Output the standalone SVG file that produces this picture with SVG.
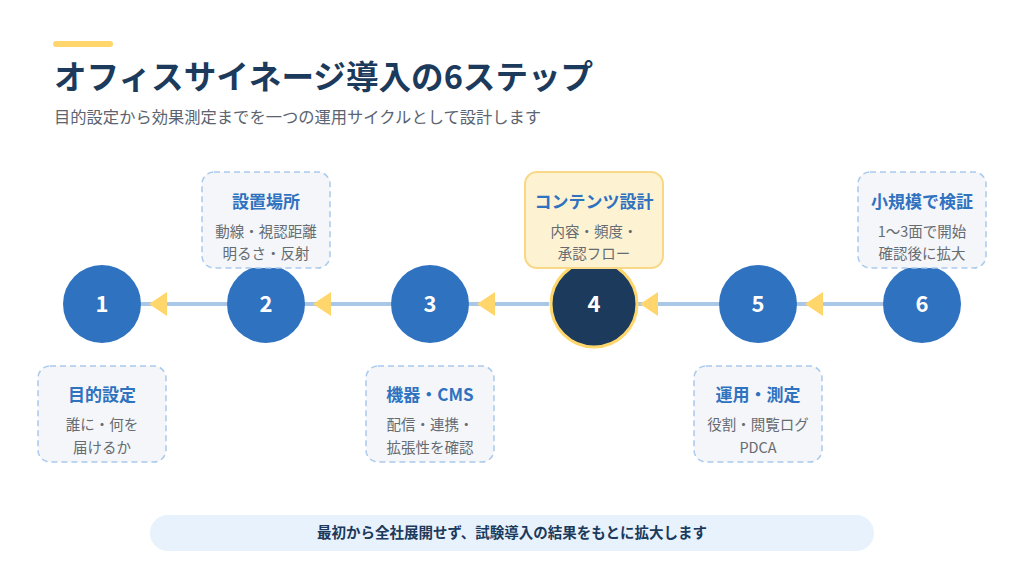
<svg xmlns="http://www.w3.org/2000/svg" width="1024" height="576" viewBox="0 0 1024 576">
<defs>
<style>
text{font-family:"Noto Sans CJK JP","Noto Sans",sans-serif;}
.title{font-size:32.6px;font-weight:700;fill:#1b3a5c;}
.sub{font-size:16.3px;fill:#5b6470;}
.num{font-size:22px;font-weight:700;fill:#ffffff;text-anchor:middle;}
.step{fill:#2f72c0;}
.card{fill:#f4f6f9;stroke:#a9c9ec;stroke-width:1.5;stroke-dasharray:6 4;}
.hl{fill:#fdf3d3;stroke:#f8d887;stroke-width:2;}
.ct{font-size:17px;font-weight:700;fill:#2f72c0;text-anchor:middle;}
.cb{font-size:14.5px;fill:#666b72;text-anchor:middle;}
.conn{stroke:#a9c8e8;stroke-width:4;fill:none;marker-end:url(#arr);}
.banner{font-size:14.5px;font-weight:700;fill:#1b3a5c;text-anchor:middle;}
</style>
<marker id="arr" viewBox="0 0 18 24" markerUnits="userSpaceOnUse" markerWidth="18" markerHeight="24" refX="26" refY="12" orient="auto" overflow="visible">
<path d="M0,0 L18,12 L0,24 Z" fill="#ffd66b"/>
</marker>
</defs>
<rect width="1024" height="576" fill="#ffffff"/>
<g id="header">
<rect x="53" y="41" width="60" height="6" rx="3" fill="#ffd66b"/>
<text class="title" x="54" y="89">オフィスサイネージ導入の6ステップ</text>
<text class="sub" x="54" y="123">目的設定から効果測定までを一つの運用サイクルとして設計します</text>
</g>
<g id="connectors">
<line class="conn" x1="227" y1="304" x2="141" y2="304"/>
<line class="conn" x1="391" y1="304" x2="305" y2="304"/>
<line class="conn" x1="549" y1="304" x2="469" y2="304"/>
<line class="conn" x1="719" y1="304" x2="632" y2="304"/>
<line class="conn" x1="883" y1="304" x2="797" y2="304"/>
</g>
<g id="step1">
<circle class="step" cx="102" cy="304" r="39"/>
<text class="num" x="102" y="312">1</text>
<rect class="card" x="38" y="366" width="128" height="96" rx="12"/>
<text class="ct" x="102" y="401">目的設定</text>
<text class="cb" x="102" y="430">誰に・何を</text>
<text class="cb" x="102" y="453">届けるか</text>
</g>
<g id="step2">
<circle class="step" cx="266" cy="304" r="39"/>
<text class="num" x="266" y="312">2</text>
<rect class="card" x="202" y="172" width="128" height="96" rx="12"/>
<text class="ct" x="266" y="208">設置場所</text>
<text class="cb" x="266" y="237">動線・視認距離</text>
<text class="cb" x="266" y="259">明るさ・反射</text>
</g>
<g id="step3">
<circle class="step" cx="430" cy="304" r="39"/>
<text class="num" x="430" y="312">3</text>
<rect class="card" x="366" y="366" width="128" height="96" rx="12"/>
<text class="ct" x="430" y="401">機器・CMS</text>
<text class="cb" x="430" y="430">配信・連携・</text>
<text class="cb" x="430" y="453">拡張性を確認</text>
</g>
<g id="step4">
<circle cx="594" cy="304" r="43" fill="#1b3a5c" stroke="#ffd66b" stroke-width="3"/>
<text class="num" x="594" y="312">4</text>
<rect class="hl" x="525" y="172" width="138" height="96" rx="12"/>
<text class="ct" x="594" y="208">コンテンツ設計</text>
<text class="cb" x="594" y="237">内容・頻度・</text>
<text class="cb" x="594" y="259">承認フロー</text>
</g>
<g id="step5">
<circle class="step" cx="758" cy="304" r="39"/>
<text class="num" x="758" y="312">5</text>
<rect class="card" x="694" y="366" width="128" height="96" rx="12"/>
<text class="ct" x="758" y="401">運用・測定</text>
<text class="cb" x="758" y="430">役割・閲覧ログ</text>
<text class="cb" x="758" y="453">PDCA</text>
</g>
<g id="step6">
<circle class="step" cx="922" cy="304" r="39"/>
<text class="num" x="922" y="312">6</text>
<rect class="card" x="858" y="172" width="128" height="96" rx="12"/>
<text class="ct" x="922" y="208">小規模で検証</text>
<text class="cb" x="922" y="237">1〜3面で開始</text>
<text class="cb" x="922" y="259">確認後に拡大</text>
</g>
<g id="banner">
<rect x="150" y="515" width="724" height="36" rx="18" fill="#e8f2fc"/>
<text class="banner" x="512" y="538">最初から全社展開せず、試験導入の結果をもとに拡大します</text>
</g>
</svg>
